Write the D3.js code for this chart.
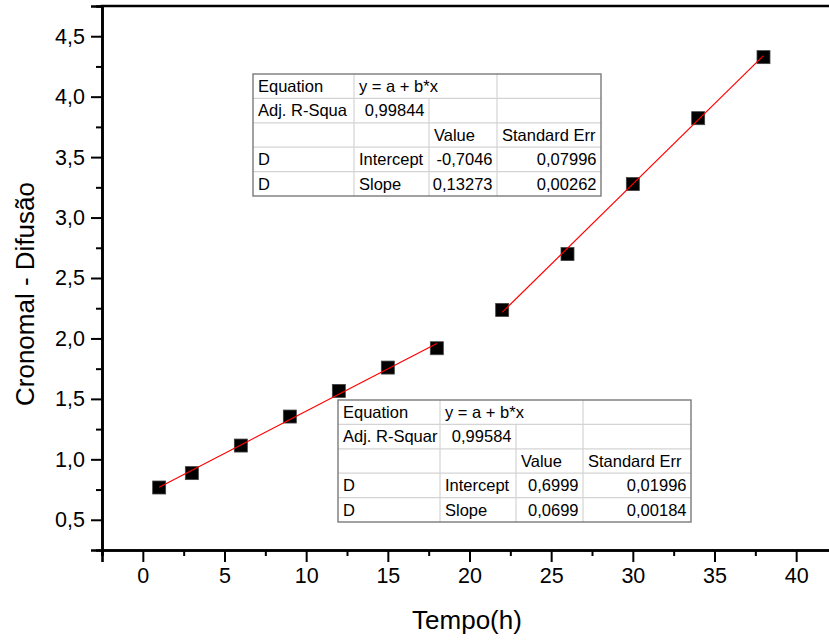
<!DOCTYPE html>
<html>
<head>
<meta charset="utf-8">
<script src="https://cdn.jsdelivr.net/npm/d3@7"></script>
<style>
  html, body { margin: 0; padding: 0; background: #fff; }
  svg { display: block; font-family: "Liberation Sans", Arial, sans-serif; }
</style>
</head>
<body>
<svg id="chart" width="829" height="641"></svg>
<script>
// Measurements: diffusion index vs time, two growth phases
const phase1Time = [1, 3, 6, 9, 12, 15, 18];
const phase1Value = [0.767, 0.886, 1.114, 1.354, 1.566, 1.759, 1.919];
const phase2Time = [22, 26, 30, 34, 38];
const phase2Value = [2.236, 2.698, 3.277, 3.822, 4.327];

// Linear fit results (y = a + b*x)
const fit1 = { intercept: 0.6999, slope: 0.0699, interceptErr: 0.01996, slopeErr: 0.00184, adjR2: "0,99584" };
const fit2 = { intercept: -0.7046, slope: 0.13273, interceptErr: 0.07996, slopeErr: 0.00262, adjR2: "0,99844" };

const xTicks = [0, 5, 10, 15, 20, 25, 30, 35, 40];
const yTicks = [0.5, 1.0, 1.5, 2.0, 2.5, 3.0, 3.5, 4.0, 4.5];

const fmt = (v, d) => v.toFixed(d).replace(".", ",");

const svg = d3.select("#chart");
const plotLeft = 102, plotTop = 6, plotBottom = 550, plotRight = 837;

const x = d3.scaleLinear().domain([-2.5, 42.5]).range([plotLeft, plotRight]);
const y = d3.scaleLinear().domain([0.25, 4.75]).range([plotBottom, plotTop]);

// Axes
const xAxis = d3.axisBottom(x).tickValues(xTicks).tickFormat(d => d).tickSizeOuter(0).tickSize(12).tickPadding(6);
const xMinor = d3.axisBottom(x).tickValues(d3.range(-2.5, 42.5, 5)).tickFormat("").tickSizeOuter(0).tickSize(6);
const yAxis = d3.axisLeft(y).tickValues(yTicks).tickFormat(d => fmt(d, 1)).tickSizeOuter(0).tickSize(11).tickPadding(6);
const yMinor = d3.axisLeft(y).tickValues(d3.range(0.75, 4.5, 0.5)).tickFormat("").tickSizeOuter(0).tickSize(6);

function styleAxis(g) {
  g.select(".domain").attr("stroke", "#000").attr("stroke-width", 2.6);
  g.selectAll(".tick line").attr("stroke", "#000").attr("stroke-width", 2);
  g.selectAll(".tick text").attr("font-size", 21.5).attr("fill", "#000")
    .attr("font-family", "'Liberation Sans', Arial, sans-serif");
}

svg.append("g").attr("transform", `translate(0,${plotBottom})`).call(xMinor).call(styleAxis);
svg.append("g").attr("transform", `translate(0,${plotBottom})`).call(xAxis).call(styleAxis);
svg.append("g").attr("transform", `translate(${plotLeft},0)`).call(yMinor).call(styleAxis);
svg.append("g").attr("transform", `translate(${plotLeft},0)`).call(yAxis).call(styleAxis);

// Top frame line
svg.append("line")
  .attr("x1", plotLeft - 1.3).attr("x2", plotRight)
  .attr("y1", plotTop).attr("y2", plotTop)
  .attr("stroke", "#000").attr("stroke-width", 2.6);

// Axis titles
svg.append("text")
  .attr("x", 467).attr("y", 629)
  .attr("text-anchor", "middle")
  .attr("font-size", 26)
  .text("Tempo(h)");

svg.append("text")
  .attr("transform", "translate(34,294) rotate(-90)")
  .attr("text-anchor", "middle")
  .attr("font-size", 26)
  .text("Cronomal - Difusão");

// Data markers
const points = phase1Time.map((t, i) => ({ t, v: phase1Value[i] }))
  .concat(phase2Time.map((t, i) => ({ t, v: phase2Value[i] })));
const ms = 13;
svg.append("g").selectAll("rect").data(points).join("rect")
  .attr("x", d => x(d.t) - ms / 2)
  .attr("y", d => y(d.v) - ms / 2)
  .attr("width", ms).attr("height", ms)
  .attr("fill", "#000")
  .attr("stroke", "#444").attr("stroke-width", 0.8);

// Fit lines
const line = d3.line().x(d => x(d[0])).y(d => y(d[1]));
function fitSegment(fit, xs) {
  const x0 = d3.min(xs), x1 = d3.max(xs);
  return [[x0, fit.intercept + fit.slope * x0], [x1, fit.intercept + fit.slope * x1]];
}
[[fit1, phase1Time], [fit2, phase2Time]].forEach(([fit, xs]) => {
  svg.append("path")
    .attr("d", line(fitSegment(fit, xs)))
    .attr("fill", "none")
    .attr("stroke", "#ff0000")
    .attr("stroke-width", 1.2);
});

// Fit result tables
function drawTable(fit, r2Label, px, py, widths) {
  const rowH = 24.4;
  const xs = [px];
  widths.forEach(w => xs.push(xs[xs.length - 1] + w));
  const W = xs[xs.length - 1] - px, H = rowH * 5;
  const g = svg.append("g");
  g.append("rect").attr("x", px).attr("y", py).attr("width", W).attr("height", H).attr("fill", "#fff");

  // inner horizontal lines
  for (let r = 1; r < 5; r++) {
    g.append("line").attr("x1", px).attr("x2", px + W)
      .attr("y1", py + r * rowH).attr("y2", py + r * rowH)
      .attr("stroke", "#d4d4d4").attr("stroke-width", 1.2);
  }
  // inner vertical lines (first row spans columns 1–2)
  for (let c = 1; c < 4; c++) {
    const y0 = c === 2 ? py + rowH : py;
    g.append("line").attr("x1", xs[c]).attr("x2", xs[c])
      .attr("y1", y0).attr("y2", py + H)
      .attr("stroke", "#d4d4d4").attr("stroke-width", 1.2);
  }
  g.append("rect").attr("x", px).attr("y", py).attr("width", W).attr("height", H)
    .attr("fill", "none").attr("stroke", "#7a7a7a").attr("stroke-width", 1.4);

  const cells = [
    [0, 0, "Equation", "start"], [0, 1, "y = a + b*x", "start"],
    [1, 0, r2Label, "start"], [1, 1, fit.adjR2, "end"],
    [2, 2, "Value", "start"], [2, 3, "Standard Err", "start"],
    [3, 0, "D", "start"], [3, 1, "Intercept", "start"],
    [3, 2, fmt(fit.intercept, 4), "end"], [3, 3, fmt(fit.interceptErr, 5), "end"],
    [4, 0, "D", "start"], [4, 1, "Slope", "start"],
    [4, 2, fmt(fit.slope, fit.slope < 0.1 ? 4 : 5), "end"], [4, 3, fmt(fit.slopeErr, 5), "end"]
  ];
  g.selectAll("text").data(cells).join("text")
    .attr("x", d => d[3] === "start" ? xs[d[1]] + 5 : xs[d[1] + 1] - 4.5)
    .attr("y", d => py + d[0] * rowH + 18)
    .attr("text-anchor", d => d[3])
    .attr("font-size", 16.5)
    .attr("fill", "#000")
    .text(d => d[2]);
}

drawTable(fit2, "Adj. R-Squa", 253, 74, [101, 75, 68, 104]);
drawTable(fit1, "Adj. R-Squar", 338, 400, [102, 76, 67, 108]);
</script>
</body>
</html>
